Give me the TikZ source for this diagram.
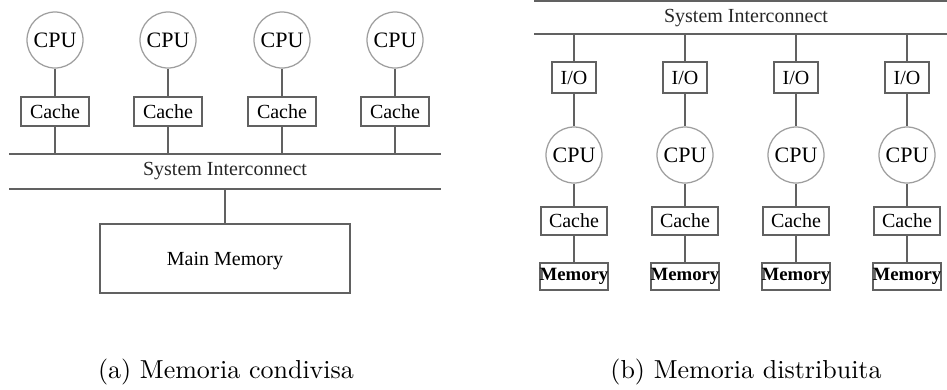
\documentclass[tikz,border=0pt]{standalone}
\usepackage{fontspec}
\newfontfamily\diagfont{Liberation Serif}
\definecolor{wire}{gray}{0.38}
\definecolor{ring}{gray}{0.62}
\tikzset{
  x=0.4pt, y=-0.4pt,
  wireline/.style={draw=wire, line width=0.75pt},
  cpunode/.style={circle, draw=ring, line width=0.5pt, minimum size=22.4pt, inner sep=0pt,
    font=\diagfont\fontsize{8.8}{9}\selectfont},
  boxnode/.style={rectangle, draw=wire, line width=0.75pt, inner sep=0pt,
    font=\diagfont\fontsize{8}{9}\selectfont},
  cachebox/.style={boxnode, minimum width=27.2pt, minimum height=11.6pt},
  cacheboxb/.style={boxnode, minimum width=26.4pt, minimum height=11.2pt},
  iobox/.style={boxnode, minimum width=17.6pt, minimum height=12.4pt},
  membox/.style={boxnode, minimum width=26.4pt, minimum height=10.8pt,
    font=\diagfont\bfseries\fontsize{7.5}{8}\selectfont},
  buslabel/.style={font=\diagfont\fontsize{8}{9}\selectfont, text=black!85},
  caption/.style={font=\fontsize{10.4}{12}\selectfont}
}
\begin{document}
\begin{tikzpicture}
\path[use as bounding box] (0,0) rectangle (947,389);

% ---------- (a) shared memory ----------
\coordinate (abusL) at (9,154);
\coordinate (abusR) at (441,154);
\coordinate (abusL2) at (9,189);
\coordinate (abusR2) at (441,189);
\draw[wireline] (abusL) -- (abusR);
\draw[wireline] (abusL2) -- (abusR2);
\node[buslabel] (alabel) at (225,171) {System Interconnect};

\foreach \i/\x in {1/55,2/168,3/282,4/395}{
  \node[cpunode] (acpu\i) at (\x,40) {CPU};
  \node[cachebox] (acache\i) at (\x,111.5) {Cache};
  \draw[wireline] (acpu\i) -- (acache\i);
  \draw[wireline] (acache\i) -- (acache\i |- abusL);
}

\node[boxnode, minimum width=100pt, minimum height=27.6pt, text depth=0pt] (mainmem) at (225,258.5) {Main Memory};
\draw[wireline] (mainmem.north |- abusL2) -- (mainmem);

\node[caption] (capa) at (226,372) {(a) Memoria condivisa};

% ---------- (b) distributed memory ----------
\coordinate (bbusL) at (534,1);
\coordinate (bbusR) at (947,1);
\coordinate (bbusL2) at (534,34);
\coordinate (bbusR2) at (947,34);
\draw[wireline] (bbusL) -- (bbusR);
\draw[wireline] (bbusL2) -- (bbusR2);
\node[buslabel] (blabel) at (746,18) {System Interconnect};

\foreach \i/\x in {1/574,2/685,3/796,4/907}{
  \node[iobox] (bio\i) at (\x,77.5) {I/O};
  \node[cpunode] (bcpu\i) at (\x,155) {CPU};
  \node[cacheboxb] (bcache\i) at (\x,221) {Cache};
  \node[membox] (bmem\i) at (\x,276.5) {Memory};
  \draw[wireline] (bio\i |- bbusL2) -- (bio\i);
  \draw[wireline] (bio\i) -- (bcpu\i);
  \draw[wireline] (bcpu\i) -- (bcache\i);
  \draw[wireline] (bcache\i) -- (bmem\i);
}

\node[caption] (capb) at (746,372) {(b) Memoria distribuita};
\end{tikzpicture}
\end{document}
